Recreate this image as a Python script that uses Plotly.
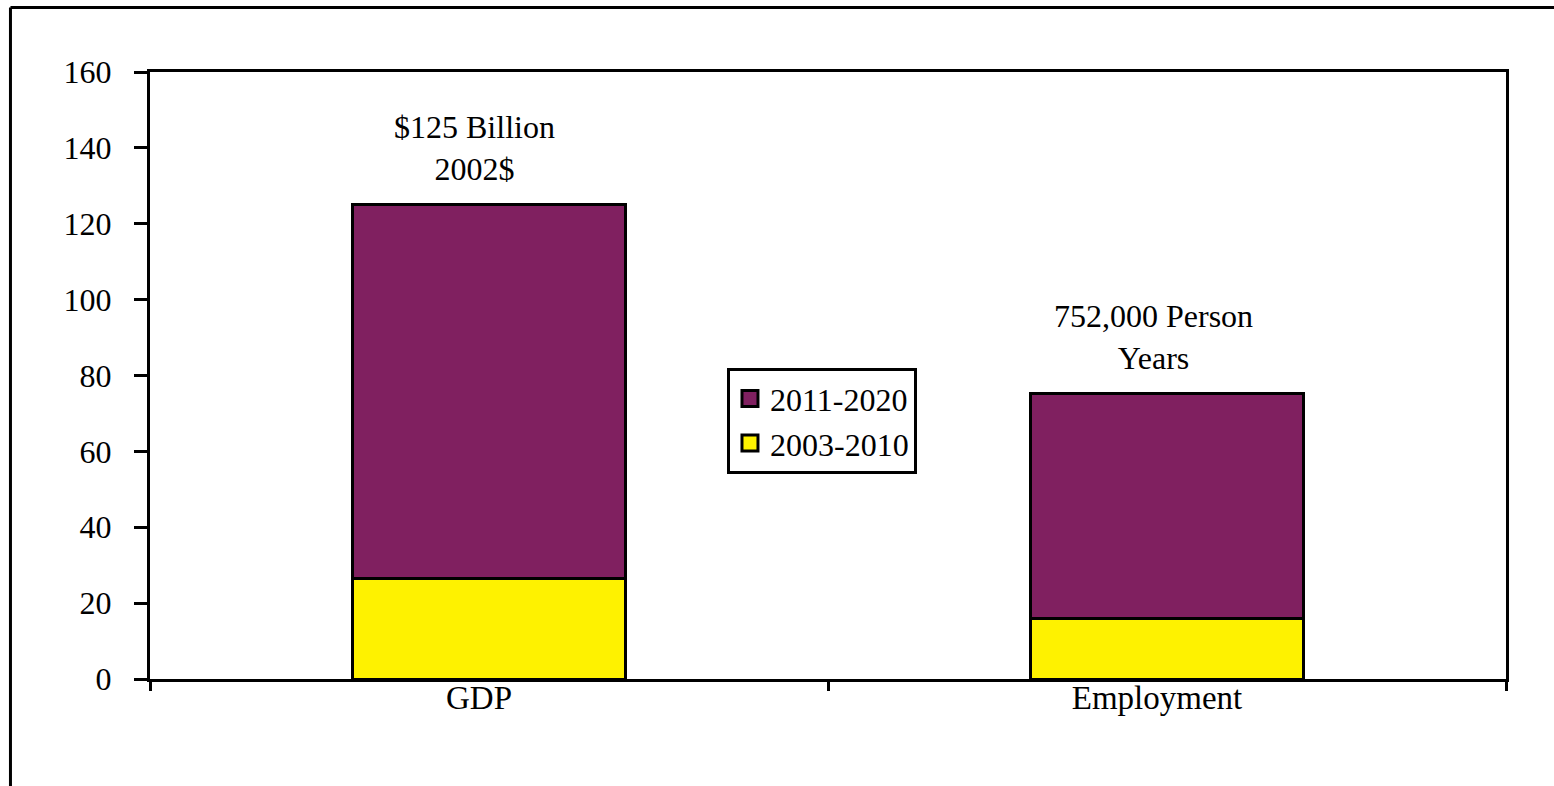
import plotly.graph_objects as go

# Economic impact by period (GDP in $ billions 2002$, employment in 10,000 person-years)
categories = ["GDP", "Employment"]
period_early = "2003-2010"
period_late = "2011-2020"
values_early = [26.4, 16.0]
values_late = [98.6, 59.2]
totals = [125.0, 75.2]
total_labels = ["$125 Billion<br>2002$", "752,000 Person<br>Years"]
y_ticks = [0, 20, 40, 60, 80, 100, 120, 140, 160]

PURPLE = "#802060"
YELLOW = "#FEF200"
FONT = "Times New Roman"

fig = go.Figure()
for name, vals, color in [(period_early, values_early, YELLOW), (period_late, values_late, PURPLE)]:
    fig.add_trace(go.Bar(
        x=categories, y=vals, name=name, width=0.404, showlegend=False,
        marker=dict(color=color, line=dict(color="black", width=3)),
    ))

# legend keys drawn as larger outlined squares
for name, color in [(period_early, YELLOW), (period_late, PURPLE)]:
    fig.add_trace(go.Scatter(
        x=[None], y=[None], mode="markers", name=name,
        marker=dict(symbol="square", size=16, color=color, line=dict(color="black", width=3)),
    ))

# total labels above each stacked bar
for cat, tot, lab, dx in zip(categories, totals, total_labels, [-15, -14]):
    fig.add_annotation(
        x=cat, y=tot, text=lab, showarrow=False, xref="x", yref="y",
        yanchor="bottom", yshift=16, xshift=dx,
        font=dict(family=FONT, size=32, color="black"),
    )

fig.update_layout(
    barmode="stack",
    width=1554, height=786,
    margin=dict(l=150, r=48, t=72, b=107),
    paper_bgcolor="white", plot_bgcolor="white",
    font=dict(family=FONT, size=32, color="black"),
    showlegend=True,
    legend=dict(
        traceorder="reversed",
        x=0.4255, y=0.512, xanchor="left", yanchor="top",
        bgcolor="white", bordercolor="black", borderwidth=3,
        font=dict(family=FONT, size=32, color="black"),
        itemwidth=30, tracegroupgap=0,
    ),
    xaxis=dict(
        type="category", range=[-0.5, 1.5],
        tickson="boundaries", ticks="outside", ticklen=9, tickwidth=3, tickcolor="black",
        showline=True, linewidth=3, linecolor="black", mirror=True,
        showgrid=False, zeroline=False,
        tickfont=dict(family=FONT, size=33), ticklabelstandoff=-13, ticklabelshift=-10,
    ),
    xaxis2=dict(
        overlaying="x", range=[-0.5, 1.5], tickvals=[-0.5, 0.5, 1.5],
        ticks="inside", ticklen=13, tickwidth=3, tickcolor="black",
        showticklabels=False, showline=False, showgrid=False, zeroline=False,
        side="bottom",
    ),
    yaxis=dict(
        range=[0, 160], tickvals=y_ticks,
        ticks="outside", ticklen=13, tickwidth=3, tickcolor="black",
        showline=True, linewidth=3, linecolor="black", mirror=True,
        showgrid=False, zeroline=False,
        tickfont=dict(family=FONT, size=32), ticklabelstandoff=16,
    ),
    yaxis2=dict(
        overlaying="y", range=[0, 160], tickvals=y_ticks,
        ticks="inside", ticklen=12, tickwidth=3, tickcolor="black",
        showticklabels=False, showline=False, showgrid=False, zeroline=False,
        side="left",
    ),
)

# outer chart frame: left and top edges (right and bottom lie past the page)
fig.add_shape(type="line", xref="paper", yref="paper", x0=-0.1029, x1=-0.1029, y0=-0.3, y1=1.1063,
              line=dict(color="black", width=3), layer="above")
fig.add_shape(type="line", xref="paper", yref="paper", x0=-0.1029, x1=1.1, y0=1.1063, y1=1.1063,
              line=dict(color="black", width=3), layer="above")

fig.write_html("out.html")
